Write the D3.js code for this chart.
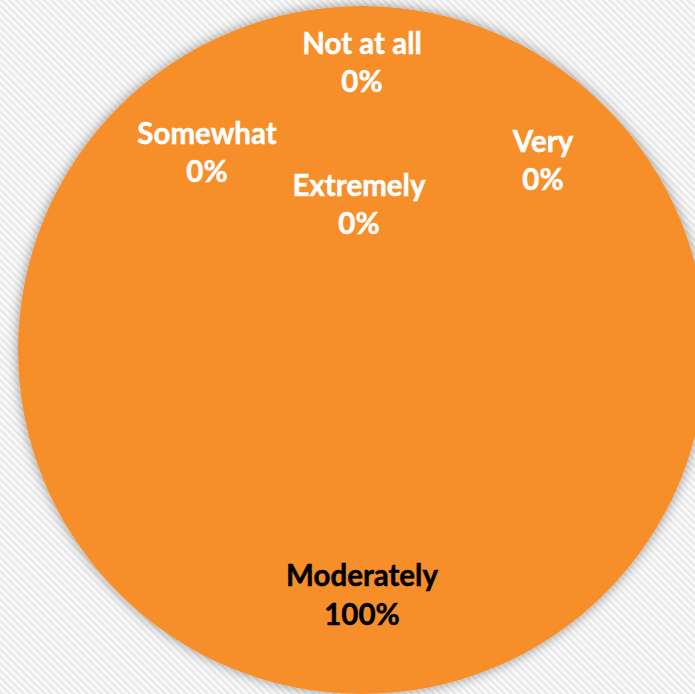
<!DOCTYPE html>
<html>
<head>
<meta charset="utf-8">
<script src="https://cdn.jsdelivr.net/npm/d3@7"></script>
<style>
  html, body { margin: 0; padding: 0; background: #ffffff; }
  svg { display: block; }
</style>
</head>
<body>
<script>
// Responses and their shares (percent)
const categories = ["Not at all", "Somewhat", "Moderately", "Very", "Extremely"];
const values = [0, 0, 100, 0, 0];
const labelColors = ["#ffffff", "#ffffff", "#000000", "#ffffff", "#ffffff"];

// Layout: label offsets from each slice's label anchor (keeps zero-size slices readable)
const labelNudge = [[0, -42], [-155, 48], [0, 0], [181, 56], [-3, 100]];

const W = 695, H = 694;
const cx = 362, cy = 350, R = 344;
const labelRadius = R * 0.713;
const sliceColor = "#F68E2C";

const svg = d3.select("body").append("svg")
  .attr("width", W).attr("height", H);

const defs = svg.append("defs");

// Fine diagonal stripe texture for the chart area
const pat = defs.append("pattern")
  .attr("id", "stripes")
  .attr("patternUnits", "userSpaceOnUse")
  .attr("width", 5).attr("height", 5)
  .attr("patternTransform", "rotate(-45)");
pat.append("rect").attr("width", 5).attr("height", 5).attr("fill", "#fbfbfb");
pat.append("rect").attr("width", 2.5).attr("height", 5).attr("fill", "#e8e8e8");

// Soft outer shadow around the pie
const filt = defs.append("filter")
  .attr("id", "softShadow")
  .attr("x", "-10%").attr("y", "-10%")
  .attr("width", "120%").attr("height", "120%");
filt.append("feDropShadow")
  .attr("dx", 0).attr("dy", 0)
  .attr("stdDeviation", 6)
  .attr("flood-color", "#000000")
  .attr("flood-opacity", 0.4);

svg.append("rect")
  .attr("width", W).attr("height", H)
  .attr("fill", "url(#stripes)");

const pie = d3.pie().sort(null).value(d => d);
const arcs = pie(values);

const arc = d3.arc().innerRadius(0).outerRadius(R);
const labelArc = d3.arc().innerRadius(labelRadius).outerRadius(labelRadius);

const g = svg.append("g").attr("transform", `translate(${cx},${cy})`);

g.selectAll("path.slice")
  .data(arcs.filter(a => a.value > 0))
  .join("path")
  .attr("class", "slice")
  .attr("d", arc)
  .attr("fill", sliceColor)
  .attr("filter", "url(#softShadow)");

const total = d3.sum(values);
const fmt = v => Math.round(v / total * 100) + "%";

const labels = g.selectAll("text.lbl")
  .data(arcs)
  .join("text")
  .attr("class", "lbl")
  .attr("text-anchor", "middle")
  .attr("font-family", "Lato, 'Open Sans', sans-serif")
  .attr("font-weight", "bold")
  .attr("font-size", 29.5)
  .attr("fill", (d, i) => labelColors[i])
  .attr("stroke", (d, i) => labelColors[i])
  .attr("stroke-width", 0.5)
  .attr("transform", (d, i) => {
    const [x, y] = labelArc.centroid(d);
    return `translate(${x + labelNudge[i][0]},${y + labelNudge[i][1]})`;
  });

labels.append("tspan")
  .attr("x", 0).attr("dy", "-0.3em")
  .text((d, i) => categories[i]);
labels.append("tspan")
  .attr("x", 0).attr("dy", "1.3em")
  .text(d => fmt(d.value));
</script>
</body>
</html>
